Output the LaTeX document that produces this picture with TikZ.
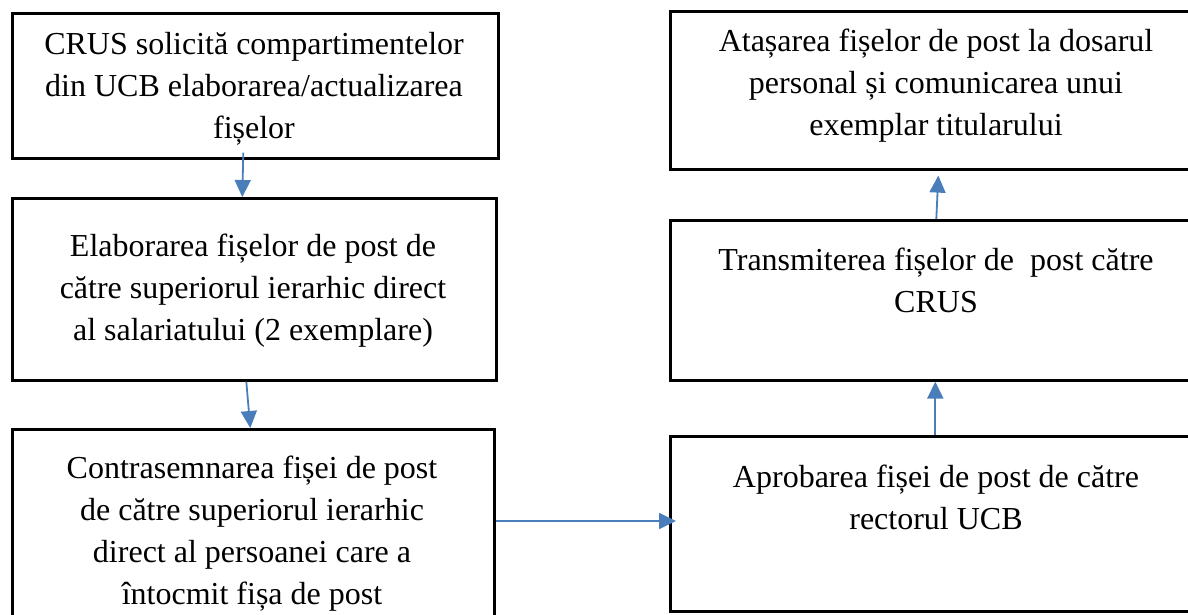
\documentclass[tikz,border=0pt]{standalone}
\usepackage{fontspec}
\setmainfont{Liberation Serif}
\usetikzlibrary{arrows.meta,calc}
\definecolor{arrblue}{HTML}{4A7EBB}
\tikzset{
  box/.style={draw=black, line width=2.6pt, rectangle, inner sep=0pt, anchor=north west},
  txt/.style={anchor=north, align=center, inner sep=0pt, font=\fontsize{32}{42}\selectfont},
  arr/.style={draw=arrblue, line width=1.8pt, -{Triangle[length=17pt,width=16pt]}}
}
\begin{document}
\begin{tikzpicture}[x=1pt,y=-1pt]
\useasboundingbox (0,0) rectangle (1188,615);
\clip (0,0) rectangle (1188,615);
\fill[white] (0,0) rectangle (1188,615);
% left column
\node[box, minimum width=486pt, minimum height=145pt] (b1) at (11,12) {};
\node[box, minimum width=484pt, minimum height=182pt] (b2) at (11,197) {};
\node[box, minimum width=482pt, minimum height=200pt] (b3) at (11,428) {};
% right column
\node[box, minimum width=534pt, minimum height=158pt] (b4) at (669,10) {};
\node[box, minimum width=534pt, minimum height=160pt] (b5) at (669,219) {};
\node[box, minimum width=534pt, minimum height=175pt] (b6) at (669,435) {};
% texts
\node[txt] (t1) at (254,25) {\strut CRUS solicită compartimentelor\\din UCB elaborarea/actualizarea\\fișelor};
\node[txt] (t2) at (253,227) {\strut Elaborarea fișelor de post de\\către superiorul ierarhic direct\\al salariatului (2 exemplare)};
\node[txt] (t3) at (252,449) {\strut Contrasemnarea fișei de post\\de către superiorul ierarhic\\direct al persoanei care a\\întocmit fișa de post};
\node[txt] (t4) at (936,22) {\strut Atașarea fișelor de post la dosarul\\personal și comunicarea unui\\exemplar titularului};
\node[txt] (t5) at (936,241) {\strut Transmiterea fișelor de\ \ post către\\CRUS};
\node[txt] (t6) at (936,458) {\strut Aprobarea fișei de post de către\\rectorul UCB};
% connectors
\draw[arr] ([xshift=-12pt,yshift=7pt]b1.south) -- ([xshift=-12pt]b2.north);
\draw[arr] ([xshift=-8pt]b2.south) -- ([xshift=-3pt]b3.north);
\draw[arr] (b3.east |- 0,521) -- ([xshift=7pt]b6.west |- 0,521);
\draw[arr] ([xshift=-2pt]b6.north) -- ([xshift=-2pt]b5.south);
\draw[arr] ([xshift=-1pt]b5.north) -- ([xshift=1pt,yshift=-5pt]b4.south);
\end{tikzpicture}
\end{document}
